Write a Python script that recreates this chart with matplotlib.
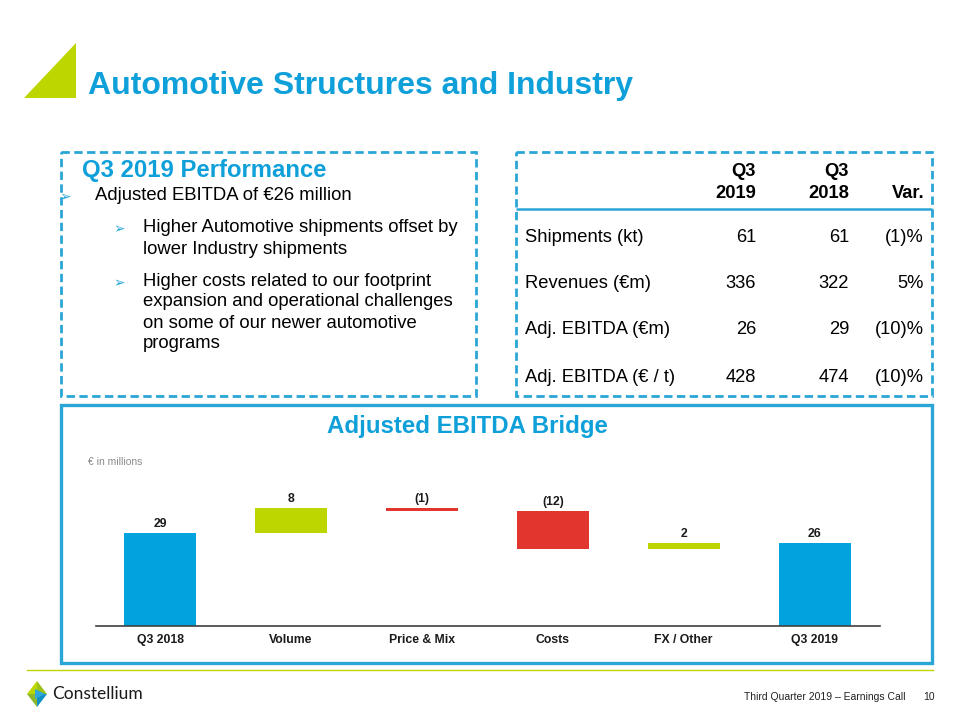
import matplotlib
matplotlib.use("Agg")
import matplotlib.pyplot as plt
from matplotlib.patches import Polygon, Rectangle
import numpy as np

# ---------------- data ----------------
categories = ["Q3 2018", "Volume", "Price & Mix", "Costs", "FX / Other", "Q3 2019"]
start_value = 29
changes = [8, -1, -12, 2]
end_value = 26
bar_labels = ["29", "8", "(1)", "(12)", "2", "26"]

table_rows = ["Shipments (kt)", "Revenues (€m)", "Adj. EBITDA (€m)", "Adj. EBITDA (€ / t)"]
q3_2019 = ["61", "336", "26", "428"]
q3_2018 = ["61", "322", "29", "474"]
variation = ["(1)%", "5%", "(10)%", "(10)%"]

bullet_main = "Adjusted EBITDA of €26 million"
sub_bullets = [
    ["Higher Automotive shipments offset by", "lower Industry shipments"],
    ["Higher costs related to our footprint", "expansion and operational challenges",
     "on some of our newer automotive", "programs"],
]

# ---------------- style ----------------
BLUE = "#00A3DD"
TITLE_BLUE = "#0FA0DA"
BOX_BLUE = "#2AA6D6"
LIME = "#BED600"
RED = "#E2352E"
W, H = 960, 720

fig = plt.figure(figsize=(9.6, 7.2), dpi=100)
fig.patch.set_facecolor("white")

# overlay in pixel coordinates
ov = fig.add_axes([0, 0, 1, 1], zorder=0)
ov.set_xlim(0, W)
ov.set_ylim(H, 0)
ov.axis("off")

SANS = ["Liberation Sans", "DejaVu Sans"]
NARROW = ["Liberation Sans Narrow", "Liberation Sans", "DejaVu Sans"]
BODY = 13.3
TAB = 13.2

# title triangle + title
ov.add_patch(Polygon([[24, 98], [76, 43], [76, 98]], closed=True, color=LIME, lw=0))
ov.text(88, 86, "Automotive Structures and Industry", fontsize=23, fontweight="bold",
        color=TITLE_BLUE, family=SANS, va="center", ha="left")

# dashed boxes
def dashed_box(x0, y0, x1, y1):
    ov.add_patch(Rectangle((x0, y0), x1 - x0, y1 - y0, fill=False, ec=BOX_BLUE,
                           lw=2.0, linestyle=(0, (3, 1.6))))

dashed_box(61, 152, 476, 396)
dashed_box(516, 152, 932, 396)

# left box contents
ov.text(82, 170, "Q3 2019 Performance", fontsize=17.2, fontweight="bold", color=TITLE_BLUE,
        family=SANS, va="center", ha="left")
ov.text(59, 197, "➢", fontsize=10, color=BOX_BLUE, family=["DejaVu Sans"], va="center", ha="left")
ov.text(95, 196, bullet_main, fontsize=BODY, color="black", family=SANS, va="center", ha="left")
ys_sets = [[228, 249], [282, 302, 323, 344]]
for lines, ys in zip(sub_bullets, ys_sets):
    ov.text(113, ys[0] + 1, "➢", fontsize=10, color=BOX_BLUE, family=["DejaVu Sans"],
            va="center", ha="left")
    for ln, yy in zip(lines, ys):
        ov.text(143, yy, ln, fontsize=BODY, color="black", family=SANS, va="center", ha="left")

# table
col_x = [756, 849, 924]
ov.text(col_x[0], 172, "Q3", fontsize=TAB, fontweight="bold", family=SANS, ha="right", va="center")
ov.text(col_x[0], 193, "2019", fontsize=TAB, fontweight="bold", family=SANS, ha="right", va="center")
ov.text(col_x[1], 172, "Q3", fontsize=TAB, fontweight="bold", family=SANS, ha="right", va="center")
ov.text(col_x[1], 193, "2018", fontsize=TAB, fontweight="bold", family=SANS, ha="right", va="center")
ov.text(col_x[2], 193, "Var.", fontsize=TAB, fontweight="bold", family=SANS, ha="right", va="center")
ov.plot([516, 932], [209, 209], color=BOX_BLUE, lw=1.8, solid_capstyle="butt")
row_y = [237, 283, 330, 377]
for lab, a, b, v, yy in zip(table_rows, q3_2019, q3_2018, variation, row_y):
    ov.text(525, yy, lab, fontsize=TAB, family=SANS, ha="left", va="center")
    ov.text(col_x[0], yy, a, fontsize=TAB, family=SANS, ha="right", va="center")
    ov.text(col_x[1], yy, b, fontsize=TAB, family=SANS, ha="right", va="center")
    ov.text(col_x[2], yy, v, fontsize=TAB, family=SANS, ha="right", va="center")

# chart box
ov.add_patch(Rectangle((61, 405), 871, 258, fill=False, ec=BOX_BLUE, lw=2.4))
ov.text(467, 426, "Adjusted EBITDA Bridge", fontsize=17.3, fontweight="bold", color=TITLE_BLUE,
        family=SANS, ha="center", va="center")
ov.text(88, 462, "€ in millions", fontsize=7.5, color="#8A8A8A", family=NARROW,
        ha="left", va="center")

# footer
ov.plot([27, 933], [670, 670], color=LIME, lw=1.0)
# logo icon
cx, cy = 37, 694
ov.add_patch(Polygon([[cx, cy - 13], [cx + 10, cy], [cx, cy]], color="#9CC21A", lw=0))
ov.add_patch(Polygon([[cx, cy - 13], [cx - 10, cy], [cx, cy]], color=LIME, lw=0))
ov.add_patch(Polygon([[cx - 10, cy], [cx, cy], [cx, cy + 13]], color="#8DB82A", lw=0))
ov.add_patch(Polygon([[cx, cy], [cx + 10, cy], [cx, cy + 13]], color="#0E8FC6", lw=0))
ov.add_patch(Polygon([[cx - 2, cy - 5], [cx + 8, cy], [cx - 2, cy + 5]], color="#2FA9DD", lw=0))
ov.text(52, 694, "Constellium", fontsize=12.5, color="#1A1A1A", family=["Lato", "DejaVu Sans"],
        ha="left", va="center")
ov.text(905, 697, "Third Quarter 2019 – Earnings Call", fontsize=7.5, color="#222222",
        family=SANS, ha="right", va="center")
ov.text(935, 697, "10", fontsize=7.5, color="#222222", family=SANS, ha="right", va="center")

# ---------------- waterfall chart ----------------
base_px, ppu = 626, 3.2
ymax = 48
ax = fig.add_axes([96 / W, (H - base_px) / H, 784 / W, ymax * ppu / H], zorder=2)
ax.patch.set_alpha(0)
x = np.arange(len(categories))
levels = np.cumsum([start_value] + changes)
bottoms = [0] + [min(levels[i], levels[i + 1]) for i in range(len(changes))] + [0]
heights = [start_value] + [abs(c) for c in changes] + [end_value]
colors = [BLUE] + [LIME if c > 0 else RED for c in changes] + [BLUE]
tops = [b + h for b, h in zip(bottoms, heights)]
ax.bar(x, heights, bottom=bottoms, width=0.55, color=colors, edgecolor="none")
for xi, t, lab in zip(x, tops, bar_labels):
    ax.annotate(lab, (xi, t), xytext=(0, 2), textcoords="offset points", ha="center",
                va="bottom", fontsize=8.8, fontweight="bold", color="#1A1A1A", family=NARROW)
ax.set_xlim(-0.49, 5.5)
ax.set_ylim(0, ymax)
ax.set_xticks(x)
ax.set_xticklabels(categories, fontsize=8.8, fontweight="bold", family=NARROW, color="#1A1A1A")
ax.tick_params(axis="x", length=0, pad=6)
ax.set_yticks([])
for s in ["top", "right", "left"]:
    ax.spines[s].set_visible(False)
ax.spines["bottom"].set_color("#404040")
ax.spines["bottom"].set_linewidth(1.2)

fig.savefig("out.png", dpi=100, facecolor="white")
